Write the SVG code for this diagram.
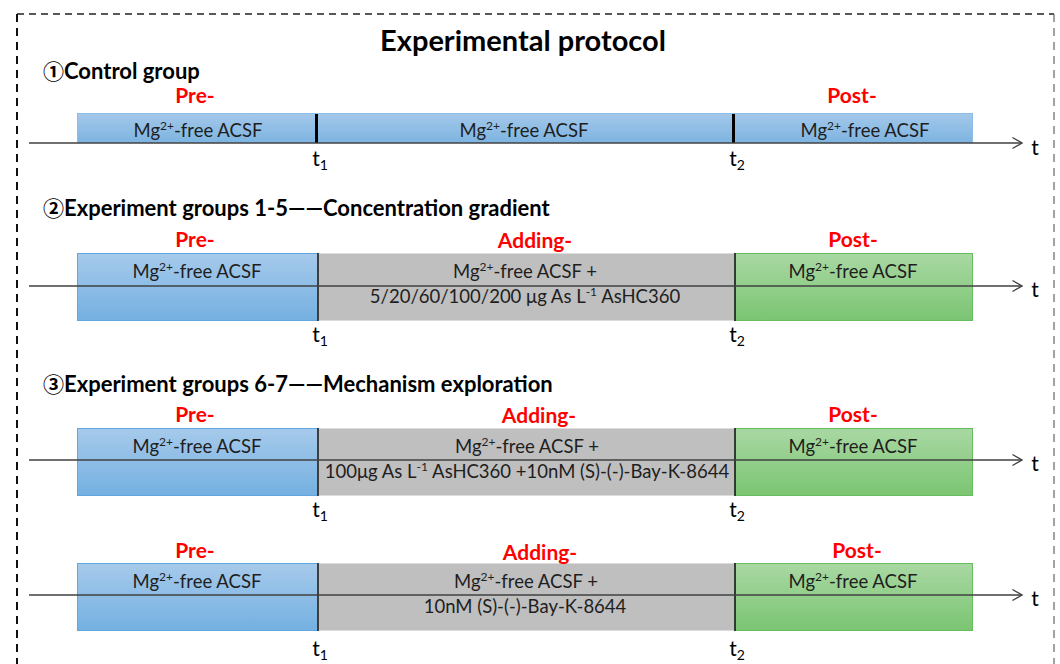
<svg xmlns="http://www.w3.org/2000/svg" width="1060" height="664" viewBox="0 0 1060 664">
<defs>
<linearGradient id="gBlue1" x1="0" y1="0" x2="0" y2="1"><stop offset="0" stop-color="#a4c8ea"/><stop offset="1" stop-color="#7db4e1"/></linearGradient>
<linearGradient id="gBlue" x1="0" y1="0" x2="0" y2="1"><stop offset="0" stop-color="#a6caeb"/><stop offset="1" stop-color="#74b0e1"/></linearGradient>
<linearGradient id="gGreen" x1="0" y1="0" x2="0" y2="1"><stop offset="0" stop-color="#a9d8a3"/><stop offset="1" stop-color="#7bc572"/></linearGradient>
<marker id="arr" markerUnits="userSpaceOnUse" markerWidth="14" markerHeight="14" refX="11" refY="7" orient="auto">
<path d="M1.5,1.5 L11,7 L1.5,12.5" fill="none" stroke="#404040" stroke-width="1.4"/>
</marker>
</defs>
<style>
.h{font-family:Lato,"Liberation Sans","DejaVu Sans",sans-serif;font-weight:bold;fill:#000}
.title{font-size:29px;text-anchor:middle}
.sec{font-size:22px}
.num{font-family:"Noto Sans CJK SC","DejaVu Sans",sans-serif;font-weight:bold;font-size:21px}
.lab{font-family:Lato,"Liberation Sans",sans-serif;font-size:21px;font-weight:bold;fill:#ff0000;text-anchor:middle}
.bt{font-family:Lato,"Liberation Sans","DejaVu Sans",sans-serif;font-size:18.5px;fill:#1e1e1e;text-anchor:middle}
.sup{font-size:12px}
.tl{font-family:Lato,"Liberation Sans",sans-serif;font-size:21px;fill:#000;text-anchor:middle}
.sub{font-size:14px}
.axis{stroke:#404040;stroke-width:1.4;fill:none;marker-end:url(#arr)}
.blue1{fill:url(#gBlue1);stroke:#8dbde6;stroke-width:1}
.blue{fill:url(#gBlue);stroke:#62a6de;stroke-width:1}
.gray{fill:#bfbfbf;stroke:#dcdcdc;stroke-width:1}
.green{fill:url(#gGreen);stroke:#68bc60;stroke-width:1}
.div1{stroke:#000;stroke-width:3}
.div{stroke:#111;stroke-width:1.5}
</style>

<g id="frame">
<line x1="17" y1="14" x2="1054" y2="14" stroke="#222" stroke-width="1.6" stroke-dasharray="7,5"/>
<line x1="17" y1="14" x2="17" y2="664" stroke="#111" stroke-width="2" stroke-dasharray="8,6"/>
<line x1="1054" y1="14" x2="1054" y2="664" stroke="#666" stroke-width="1.2" stroke-dasharray="8,6"/>
</g>

<text id="title" class="h title" x="523" y="51">Experimental protocol</text>

<!-- Section 1 -->
<text id="sec1" class="h sec" x="43" y="79"><tspan class="num">①</tspan>Control group</text>
<g id="r1-pre">
<rect class="blue1" x="77.5" y="113.5" width="239" height="29"/>
<text class="lab" x="195" y="103">Pre-</text>
<text class="bt" x="198" y="137">Mg<tspan class="sup" dy="-7">2+</tspan><tspan dy="7">-free ACSF</tspan></text>
</g>
<g id="r1-mid">
<rect class="blue1" x="316.5" y="113.5" width="417" height="29"/>
<text class="bt" x="524" y="137">Mg<tspan class="sup" dy="-7">2+</tspan><tspan dy="7">-free ACSF</tspan></text>
</g>
<g id="r1-post">
<rect class="blue1" x="733.5" y="113.5" width="239" height="29"/>
<text class="lab" x="852" y="103">Post-</text>
<text class="bt" x="865" y="137">Mg<tspan class="sup" dy="-7">2+</tspan><tspan dy="7">-free ACSF</tspan></text>
</g>

<!-- Section 2 -->
<text id="sec2" class="h sec" x="43" y="216"><tspan class="num">②</tspan>Experiment groups 1-5——Concentration gradient</text>
<g id="r2-pre">
<rect class="blue" x="77.5" y="253.5" width="240.5" height="67"/>
<text class="lab" x="195" y="247">Pre-</text>
<text class="bt" x="197" y="278">Mg<tspan class="sup" dy="-7">2+</tspan><tspan dy="7">-free ACSF</tspan></text>
</g>
<g id="r2-add">
<rect class="gray" x="318" y="253.5" width="417" height="67"/>
<text class="lab" x="535" y="248">Adding-</text>
<text class="bt" x="525" y="278">Mg<tspan class="sup" dy="-7">2+</tspan><tspan dy="7">-free ACSF +</tspan></text>
<text class="bt" x="525" y="303">5/20/60/100/200 μg As L<tspan class="sup" dy="-7">-1</tspan><tspan dy="7"> AsHC360</tspan></text>
</g>
<g id="r2-post">
<rect class="green" x="735" y="253.5" width="237.5" height="67"/>
<text class="lab" x="853" y="247">Post-</text>
<text class="bt" x="853" y="278">Mg<tspan class="sup" dy="-7">2+</tspan><tspan dy="7">-free ACSF</tspan></text>
</g>

<!-- Section 3 -->
<text id="sec3" class="h sec" x="43" y="392"><tspan class="num">③</tspan>Experiment groups 6-7——Mechanism exploration</text>
<g id="r3-pre">
<rect class="blue" x="77.5" y="428.5" width="240.5" height="67"/>
<text class="lab" x="195" y="422">Pre-</text>
<text class="bt" x="197" y="453">Mg<tspan class="sup" dy="-7">2+</tspan><tspan dy="7">-free ACSF</tspan></text>
</g>
<g id="r3-add">
<rect class="gray" x="318" y="428.5" width="417" height="67"/>
<text class="lab" x="539" y="423">Adding-</text>
<text class="bt" x="527" y="453">Mg<tspan class="sup" dy="-7">2+</tspan><tspan dy="7">-free ACSF +</tspan></text>
<text class="bt" x="527" y="478">100μg As L<tspan class="sup" dy="-7">-1</tspan><tspan dy="7"> AsHC360 +10nM (S)-(-)-Bay-K-8644</tspan></text>
</g>
<g id="r3-post">
<rect class="green" x="735" y="428.5" width="237.5" height="67"/>
<text class="lab" x="853" y="422">Post-</text>
<text class="bt" x="853" y="453">Mg<tspan class="sup" dy="-7">2+</tspan><tspan dy="7">-free ACSF</tspan></text>
</g>

<!-- Row 4 -->
<g id="r4-pre">
<rect class="blue" x="77.5" y="563.5" width="240.5" height="67"/>
<text class="lab" x="195" y="558">Pre-</text>
<text class="bt" x="197" y="588">Mg<tspan class="sup" dy="-7">2+</tspan><tspan dy="7">-free ACSF</tspan></text>
</g>
<g id="r4-add">
<rect class="gray" x="318" y="563.5" width="417" height="67"/>
<text class="lab" x="540" y="560">Adding-</text>
<text class="bt" x="526" y="588">Mg<tspan class="sup" dy="-7">2+</tspan><tspan dy="7">-free ACSF +</tspan></text>
<text class="bt" x="525" y="613">10nM (S)-(-)-Bay-K-8644</text>
</g>
<g id="r4-post">
<rect class="green" x="735" y="563.5" width="237.5" height="67"/>
<text class="lab" x="857" y="558">Post-</text>
<text class="bt" x="853" y="588">Mg<tspan class="sup" dy="-7">2+</tspan><tspan dy="7">-free ACSF</tspan></text>
</g>

<g id="connectors">
<line class="div1" x1="316.5" y1="114" x2="316.5" y2="143"/>
<line class="div1" x1="733.5" y1="114" x2="733.5" y2="143"/>
<line class="div" x1="318" y1="253" x2="318" y2="321"/>
<line class="div" x1="735" y1="253" x2="735" y2="321"/>
<line class="div" x1="318" y1="428" x2="318" y2="496"/>
<line class="div" x1="735" y1="428" x2="735" y2="496"/>
<line class="div" x1="318" y1="563" x2="318" y2="631"/>
<line class="div" x1="735" y1="563" x2="735" y2="631"/>
<line class="axis" x1="29" y1="143" x2="1022" y2="143"/>
<line class="axis" x1="29" y1="286" x2="1022" y2="286"/>
<line class="axis" x1="29" y1="460" x2="1022" y2="460"/>
<line class="axis" x1="29" y1="595" x2="1022" y2="595"/>
</g>

<g id="time-labels">
<text class="tl" x="1035" y="155">t</text>
<text class="tl" x="1035" y="297">t</text>
<text class="tl" x="1035" y="471">t</text>
<text class="tl" x="1035" y="606">t</text>
<text class="tl" x="320" y="166">t<tspan class="sub" dy="4">1</tspan></text>
<text class="tl" x="737" y="166">t<tspan class="sub" dy="4">2</tspan></text>
<text class="tl" x="320" y="342">t<tspan class="sub" dy="4">1</tspan></text>
<text class="tl" x="737" y="342">t<tspan class="sub" dy="4">2</tspan></text>
<text class="tl" x="320" y="517">t<tspan class="sub" dy="4">1</tspan></text>
<text class="tl" x="737" y="517">t<tspan class="sub" dy="4">2</tspan></text>
<text class="tl" x="320" y="656">t<tspan class="sub" dy="4">1</tspan></text>
<text class="tl" x="737" y="656">t<tspan class="sub" dy="4">2</tspan></text>
</g>
</svg>
